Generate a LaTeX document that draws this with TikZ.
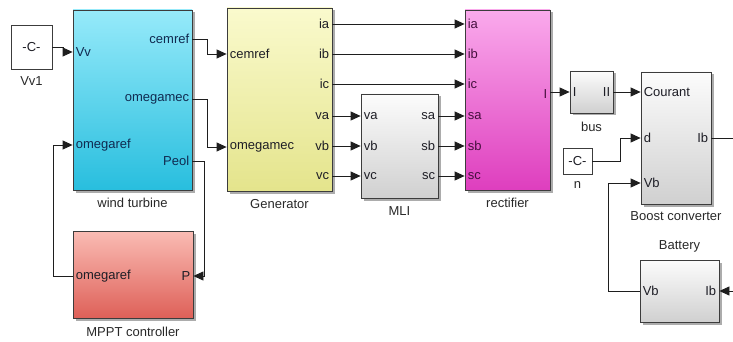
\documentclass[tikz,border=0pt]{standalone}
\usepackage{fontspec}
\setmainfont{Liberation Sans}
\usepackage{tikz}
\usetikzlibrary{arrows.meta}
\usetikzlibrary{shadows}
\usetikzlibrary{positioning}

\definecolor{linec}{RGB}{30,30,30}
\definecolor{edgec}{RGB}{60,60,60}
\definecolor{portc}{RGB}{30,30,38}
\definecolor{capc}{RGB}{40,40,40}
\definecolor{wtxt}{RGB}{16,42,80}
\definecolor{rtxt}{RGB}{70,16,62}
\definecolor{windtop}{RGB}{150,234,250}
\definecolor{windbot}{RGB}{40,190,222}
\definecolor{gentop}{RGB}{250,250,205}
\definecolor{genbot}{RGB}{228,228,140}
\definecolor{rectop}{RGB}{250,170,236}
\definecolor{recbot}{RGB}{222,62,190}
\definecolor{mppttop}{RGB}{250,188,180}
\definecolor{mpptbot}{RGB}{222,96,88}
\definecolor{graytop}{RGB}{252,252,252}
\definecolor{graybot}{RGB}{208,208,208}

\tikzset{
  blk/.style={rectangle, draw=edgec, line width=0.8pt, inner sep=0pt,
    drop shadow={shadow xshift=2.5pt, shadow yshift=-2.5pt, opacity=0.65}},
  grayblk/.style={blk, top color=graytop, bottom color=graybot},
  cst/.style={rectangle, draw=edgec, line width=0.8pt, fill=white, inner sep=0pt,
    font=\fontsize{13}{15}\selectfont, text=portc},
  port/.style={inner sep=1pt, font=\fontsize{13}{15}\selectfont, text=portc},
  blklabel/.style={inner sep=1pt, font=\fontsize{13}{15}\selectfont, text=capc},
  wire/.style={draw=linec, line width=0.8pt},
  sig/.style={wire, -{Triangle[length=10pt,width=9pt]}}
}

\begin{document}
\begin{tikzpicture}[x=1pt,y=-1pt]
\useasboundingbox (0,0) rectangle (733,342);

%Shape: Constant [id:vv1]
\node[cst, minimum width=41pt, minimum height=44pt] (vv1) at (31.5,47) {-C-};
%Shape: Block [id:wind]
\node[blk, top color=windtop, bottom color=windbot, minimum width=119pt, minimum height=180pt] (wind) at (132.5,100) {};
%Shape: Block [id:mppt]
\node[blk, top color=mppttop, bottom color=mpptbot, minimum width=120pt, minimum height=87pt] (mppt) at (133,274.5) {};
%Shape: Block [id:gen]
\node[blk, top color=gentop, bottom color=genbot, minimum width=105pt, minimum height=183pt] (gen) at (279.5,99.5) {};
%Shape: Block [id:mli]
\node[grayblk, minimum width=77pt, minimum height=104pt] (mli) at (399.5,146) {};
%Shape: Block [id:rect]
\node[blk, top color=rectop, bottom color=recbot, minimum width=85pt, minimum height=180pt] (rect) at (507.5,100) {};
%Shape: Block [id:bus]
\node[grayblk, minimum width=43pt, minimum height=42pt] (bus) at (591.5,92) {};
%Shape: Constant [id:n]
\node[cst, minimum width=29pt, minimum height=26pt] (ncst) at (577.5,161) {-C-};
%Shape: Block [id:boost]
\node[grayblk, minimum width=70pt, minimum height=132pt] (boost) at (676,138) {};
%Shape: Block [id:bat]
\node[grayblk, minimum width=79pt, minimum height=62pt] (bat) at (679.5,291) {};

% Text Node
\node[blklabel, below=6pt of vv1] (lbl-vv1) {Vv1};
\node[blklabel, below=6pt of wind] (lbl-wind) {wind turbine};
\node[blklabel, below=7pt of mppt] (lbl-mppt) {MPPT controller};
\node[blklabel, below=7pt of gen] (lbl-gen) {Generator};
\node[blklabel, below=7pt of mli] (lbl-mli) {MLI};
\node[blklabel, below=6pt of rect] (lbl-rect) {rectifier};
\node[blklabel, below=7pt of bus] (lbl-bus) {bus};
\node[blklabel, below=6pt of ncst] (lbl-n) {n};
\node[blklabel, below=6pt of boost] (lbl-boost) {Boost converter};
\node[blklabel, above=6pt of bat] (lbl-bat) {Battery};

% Port Text Node -- wind turbine
\node[port, text=wtxt, anchor=west, xshift=2pt] (wt-vv) at (wind.west |- 0,52) {Vv};
\node[port, text=wtxt, anchor=west, xshift=2pt] (wt-om) at (wind.west |- 0,145) {omegaref};
\node[port, text=wtxt, anchor=east, xshift=-2pt] (wt-cem) at (wind.east |- 0,39) {cemref};
\node[port, text=wtxt, anchor=east, xshift=-2pt] (wt-mec) at (wind.east |- 0,99) {omegamec};
\node[port, text=wtxt, anchor=east, xshift=-2pt] (wt-peol) at (wind.east |- 0,161) {Peol};
% Port Text Node -- MPPT controller
\node[port, anchor=west, xshift=2pt] (mp-om) at (mppt.west |- 0,276) {omegaref};
\node[port, anchor=east, xshift=-2pt] (mp-p) at (mppt.east |- 0,276) {P};
% Port Text Node -- Generator
\node[port, anchor=west, xshift=2pt] (gn-cem) at (gen.west |- 0,54) {cemref};
\node[port, anchor=west, xshift=2pt] (gn-mec) at (gen.west |- 0,147) {omegamec};
\node[port, anchor=east, xshift=-2pt] (gn-ia) at (gen.east |- 0,24) {ia};
\node[port, anchor=east, xshift=-2pt] (gn-ib) at (gen.east |- 0,54) {ib};
\node[port, anchor=east, xshift=-2pt] (gn-ic) at (gen.east |- 0,84) {ic};
\node[port, anchor=east, xshift=-2pt] (gn-va) at (gen.east |- 0,116) {va};
\node[port, anchor=east, xshift=-2pt] (gn-vb) at (gen.east |- 0,146) {vb};
\node[port, anchor=east, xshift=-2pt] (gn-vc) at (gen.east |- 0,176) {vc};
% Port Text Node -- MLI
\node[port, anchor=west, xshift=2pt] (ml-va) at (mli.west |- 0,116) {va};
\node[port, anchor=west, xshift=2pt] (ml-vb) at (mli.west |- 0,146) {vb};
\node[port, anchor=west, xshift=2pt] (ml-vc) at (mli.west |- 0,176) {vc};
\node[port, anchor=east, xshift=-2pt] (ml-sa) at (mli.east |- 0,116) {sa};
\node[port, anchor=east, xshift=-2pt] (ml-sb) at (mli.east |- 0,146) {sb};
\node[port, anchor=east, xshift=-2pt] (ml-sc) at (mli.east |- 0,176) {sc};
% Port Text Node -- rectifier
\node[port, text=rtxt, anchor=west, xshift=2pt] (rc-ia) at (rect.west |- 0,24) {ia};
\node[port, text=rtxt, anchor=west, xshift=2pt] (rc-ib) at (rect.west |- 0,54) {ib};
\node[port, text=rtxt, anchor=west, xshift=2pt] (rc-ic) at (rect.west |- 0,84) {ic};
\node[port, text=rtxt, anchor=west, xshift=2pt] (rc-sa) at (rect.west |- 0,116) {sa};
\node[port, text=rtxt, anchor=west, xshift=2pt] (rc-sb) at (rect.west |- 0,146) {sb};
\node[port, text=rtxt, anchor=west, xshift=2pt] (rc-sc) at (rect.west |- 0,176) {sc};
\node[port, text=rtxt, anchor=east, xshift=-2pt] (rc-i) at (rect.east |- 0,94) {I};
% Port Text Node -- bus
\node[port, anchor=west, xshift=2pt] (bs-i) at (bus.west |- 0,92) {I};
\node[port, anchor=east, xshift=-2pt] (bs-ii) at (bus.east |- 0,92) {II};
% Port Text Node -- Boost converter
\node[port, anchor=west, xshift=2pt] (bc-cour) at (boost.west |- 0,92) {Courant};
\node[port, anchor=west, xshift=2pt] (bc-d) at (boost.west |- 0,138) {d};
\node[port, anchor=west, xshift=2pt] (bc-vb) at (boost.west |- 0,183) {Vb};
\node[port, anchor=east, xshift=-2pt] (bc-ib) at (boost.east |- 0,138) {Ib};
% Port Text Node -- Battery
\node[port, anchor=west, xshift=2pt] (bt-vb) at (bat.west |- 0,291) {Vb};
\node[port, anchor=east, xshift=-2pt] (bt-ib) at (bat.east |- 0,291) {Ib};

% free ends at the right border
\coordinate (ibout) at (733,138);
\coordinate (ibin) at (733,291);

% Connection
\draw[sig] (vv1.east) -- ++(11,0) |- (wind.west |- wt-vv);
\draw[sig] (wind.east |- wt-cem) -- ++(15,0) |- (gen.west |- gn-cem);
\draw[sig] (wind.east |- wt-mec) -- ++(15,0) |- (gen.west |- gn-mec);
\draw[sig] (wind.east |- wt-peol) -- ++(12,0) |- (mppt.east |- mp-p);
\draw[sig] (mppt.west |- mp-om) -- ++(-19,0) |- (wind.west |- wt-om);
% Connection
\draw[sig] (gen.east |- gn-ia) -- (rect.west |- rc-ia);
\draw[sig] (gen.east |- gn-ib) -- (rect.west |- rc-ib);
\draw[sig] (gen.east |- gn-ic) -- (rect.west |- rc-ic);
\draw[sig] (gen.east |- gn-va) -- (mli.west |- ml-va);
\draw[sig] (gen.east |- gn-vb) -- (mli.west |- ml-vb);
\draw[sig] (gen.east |- gn-vc) -- (mli.west |- ml-vc);
\draw[sig] (mli.east |- ml-sa) -- (rect.west |- rc-sa);
\draw[sig] (mli.east |- ml-sb) -- (rect.west |- rc-sb);
\draw[sig] (mli.east |- ml-sc) -- (rect.west |- rc-sc);
% Connection
\draw[sig] (rect.east |- bs-i) -- (bus.west |- bs-i);
\draw[sig] (bus.east |- bs-ii) -- (boost.west |- bc-cour);
\draw[sig] (ncst.east) -- ++(28,0) |- (boost.west |- bc-d);
\draw[sig] (bat.west |- bt-vb) -- ++(-31,0) |- (boost.west |- bc-vb);
\draw[wire] (boost.east |- bc-ib) -- (ibout);
\draw[sig] (ibin) -- (bat.east |- bt-ib);

\end{tikzpicture}
\end{document}
